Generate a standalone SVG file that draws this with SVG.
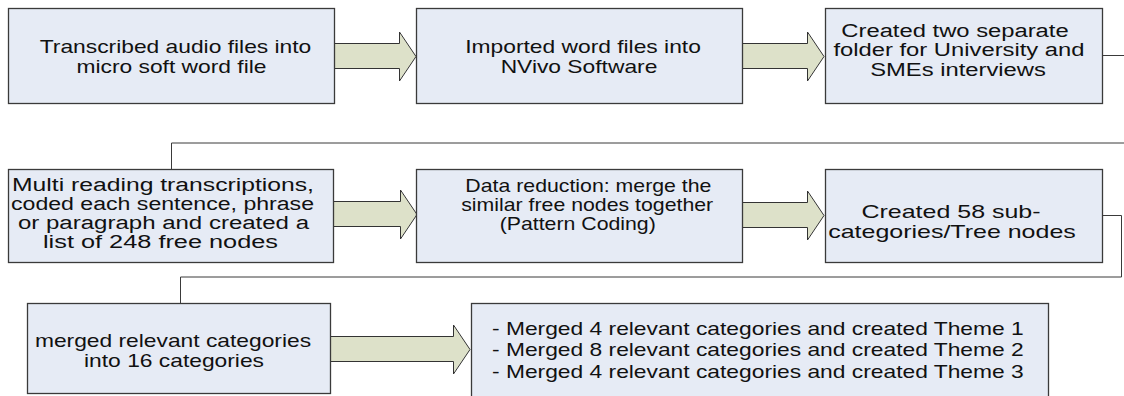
<svg xmlns="http://www.w3.org/2000/svg" width="1124" height="396" viewBox="0 0 1124 396">
<style>
.box{fill:#E6EBF5;stroke:#3a3a3a;stroke-width:1.3}
text{font-family:"Liberation Sans",Arial,sans-serif;font-size:18px;fill:#111;text-anchor:middle}
text.l{text-anchor:start}
.af{fill:#DDE1C9;stroke:none}
.ao{fill:none;stroke:#333;stroke-width:1}
.conn{fill:none;stroke:#3a3a3a;stroke-width:1}
</style>
<rect width="1124" height="396" fill="#fff"/>
<g id="connectors">
<polyline class="conn" points="1103,55.5 1130,55.5 1130,143 171.5,143 171.5,169"/>
<polyline class="conn" points="1103,215.5 1121.5,215.5 1121.5,277 180.5,277 180.5,303"/>
<g id="a1"><polygon class="af" points="329,43 399,43 399,32 416,56.5 399,81 399,69 329,69"/><polyline class="ao" points="335,43.5 399.5,43.5 399.5,32 416,56.5 399.5,81 399.5,68.5 335,68.5"/></g>
<g id="a2"><polygon class="af" points="737,43 807,43 807,32 824,56.5 807,81 807,69 737,69"/><polyline class="ao" points="743,43.5 807.5,43.5 807.5,32 824,56.5 807.5,81 807.5,68.5 743,68.5"/></g>
<g id="a3"><polygon class="af" points="328,201 400,201 400,190 417,214.5 400,239 400,227 328,227"/><polyline class="ao" points="334,201.5 400.5,201.5 400.5,190 417,214.5 400.5,239 400.5,226.5 334,226.5"/></g>
<g id="a4"><polygon class="af" points="737,202 807,202 807,191 824,215.5 807,240 807,228 737,228"/><polyline class="ao" points="743,202.5 807.5,202.5 807.5,191 824,215.5 807.5,240 807.5,227.5 743,227.5"/></g>
<g id="a5"><polygon class="af" points="325,336 453,336 453,325 470,349.5 453,374 453,362 325,362"/><polyline class="ao" points="331,336.5 453.5,336.5 453.5,325 470,349.5 453.5,374 453.5,361.5 331,361.5"/></g>
</g>
<g id="n1"><rect class="box" x="8.5" y="8.5" width="326" height="95"/>
<text transform="translate(173.5 0) scale(1.267 1)"><tspan x="1.6" y="53">Transcribed audio files into</tspan><tspan x="-1.6" y="73">micro soft word file</tspan></text></g>
<g id="n2"><rect class="box" x="416.5" y="8.5" width="326" height="95"/>
<text transform="translate(581 0) scale(1.267 1)"><tspan x="1.6" y="53">Imported word files into</tspan><tspan x="-1.6" y="73">NVivo Software</tspan></text></g>
<g id="n3"><rect class="box" x="825.5" y="8.5" width="277" height="95"/>
<text transform="translate(957.5 0) scale(1.322 1)"><tspan x="-1.9" y="37">Created two separate</tspan><tspan x="1.1" y="56.5">folder for University and</tspan><tspan x="0.4" y="76">SMEs interviews</tspan></text></g>
<g id="n4"><rect class="box" x="8.5" y="169.5" width="325" height="93"/>
<text class="l" x="12" y="191" textLength="302" lengthAdjust="spacingAndGlyphs">Multi reading transcriptions,</text>
<text class="l" x="11" y="210" textLength="303" lengthAdjust="spacingAndGlyphs">coded each sentence, phrase</text>
<text class="l" x="18" y="229" textLength="291" lengthAdjust="spacingAndGlyphs">or paragraph and created a</text>
<text class="l" x="43" y="248" textLength="235" lengthAdjust="spacingAndGlyphs">list of 248 free nodes</text></g>
<g id="n5"><rect class="box" x="416.5" y="169.5" width="326" height="93"/>
<text transform="translate(586 0) scale(1.183 1)"><tspan x="2" y="192">Data reduction: merge the</tspan><tspan x="1" y="211">similar free nodes together</tspan><tspan x="-7" y="230">(Pattern Coding)</tspan></text></g>
<g id="n6"><rect class="box" x="825.5" y="169.5" width="277" height="93"/>
<text transform="translate(951 0) scale(1.389 1)"><tspan x="0" y="218">Created 58 sub-</tspan><tspan x="0.7" y="238">categories/Tree nodes</tspan></text></g>
<g id="n7"><rect class="box" x="27.5" y="303.5" width="303" height="90"/>
<text transform="translate(173 0) scale(1.267 1)"><tspan x="0" y="347">merged relevant categories</tspan><tspan x="0.8" y="367">into 16 categories</tspan></text></g>
<g id="n8"><rect class="box" x="471.5" y="303.5" width="577" height="100"/>
<text class="l" transform="translate(492 0) scale(1.267 1)"><tspan x="0" y="335">- Merged 4 relevant categories and created Theme 1</tspan><tspan x="0" y="356.5">- Merged 8 relevant categories and created Theme 2</tspan><tspan x="0" y="378">- Merged 4 relevant categories and created Theme 3</tspan></text></g>
</svg>
